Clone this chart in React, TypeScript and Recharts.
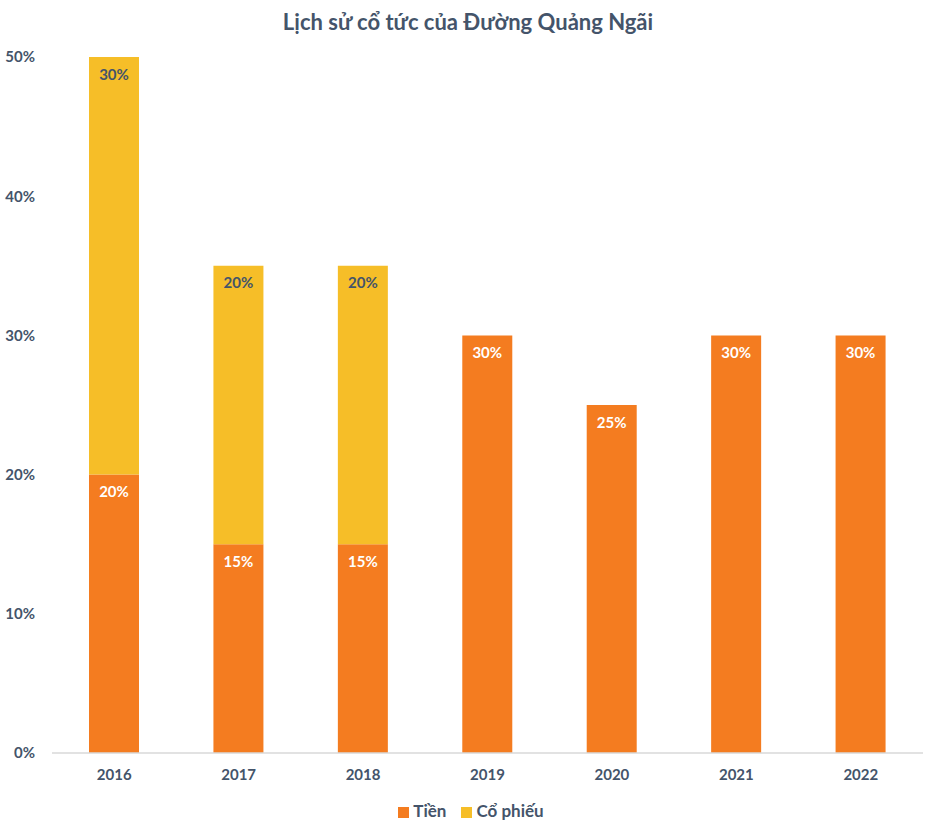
import { BarChart, Bar, XAxis, YAxis, Legend, LabelList } from "recharts";

const years = ["2016", "2017", "2018", "2019", "2020", "2021", "2022"];
const cashValues = [20, 15, 15, 30, 25, 30, 30];
const stockValues: (number | null)[] = [30, 20, 20, null, null, null, null];
const yTicks = [0, 10, 20, 30, 40, 50];

const TEXT = "#44546A";
const ORANGE = "#F47C20";
const YELLOW = "#F6BE28";
const FONT = "Lato, 'Open Sans', sans-serif";

const data = years.map((year, i) => ({
  year,
  cash: cashValues[i],
  stock: stockValues[i],
}));

const pct = (v: unknown) => (v == null ? "" : `${v}%`);

export default function App() {
  // pinned to the page corner so the % labels can sit closer to the edge than the body margin allows
  return (
    <div style={{ position: "absolute", left: 0, top: 0, width: 936, fontFamily: FONT }}>
      <div
        style={{
          height: 44,
          lineHeight: "44px",
          textAlign: "center",
          fontSize: 22,
          fontWeight: 700,
          color: TEXT,
        }}
      >
        Lịch sử cổ tức của Đường Quảng Ngãi
      </div>
      <BarChart
        width={936}
        height={788}
        data={data}
        margin={{ top: 13, right: 13, bottom: 11, left: 0 }}
        barSize={50}
      >
        <XAxis
          dataKey="year"
          axisLine={{ stroke: "#D9D9D9", strokeWidth: 1.5 }}
          tickLine={false}
          tickSize={0}
          tickMargin={16}
          height={47}
          tick={{ fill: TEXT, fontSize: 15, fontWeight: 700, fontFamily: FONT }}
        />
        <YAxis
          domain={[0, 50]}
          ticks={yTicks}
          width={52}
          axisLine={false}
          tickLine={false}
          tickSize={0}
          tickMargin={17}
          tickFormatter={(v) => `${v}%`}
          tick={{ fill: TEXT, fontSize: 15, fontWeight: 700, fontFamily: FONT }}
        />
        <Legend
          verticalAlign="bottom"
          iconType="square"
          iconSize={11}
          itemSorter="dataKey"
          wrapperStyle={{ left: 17, fontSize: 17, fontWeight: 700, fontFamily: FONT }}
          formatter={(value) => (
            <span style={{ color: TEXT, paddingRight: 5 }}>{value}</span>
          )}
        />
        <Bar dataKey="cash" name="Tiền" stackId="a" fill={ORANGE} isAnimationActive={false}>
          <LabelList
            dataKey="cash"
            position="insideTop"
            offset={12}
            formatter={pct}
            style={{ fill: "#FFFFFF", fontSize: 15, fontWeight: 700, fontFamily: FONT }}
          />
        </Bar>
        <Bar dataKey="stock" name="Cổ phiếu" stackId="a" fill={YELLOW} isAnimationActive={false}>
          <LabelList
            dataKey="stock"
            position="insideTop"
            offset={12}
            formatter={pct}
            style={{ fill: TEXT, fontSize: 15, fontWeight: 700, fontFamily: FONT }}
          />
        </Bar>
      </BarChart>
    </div>
  );
}
